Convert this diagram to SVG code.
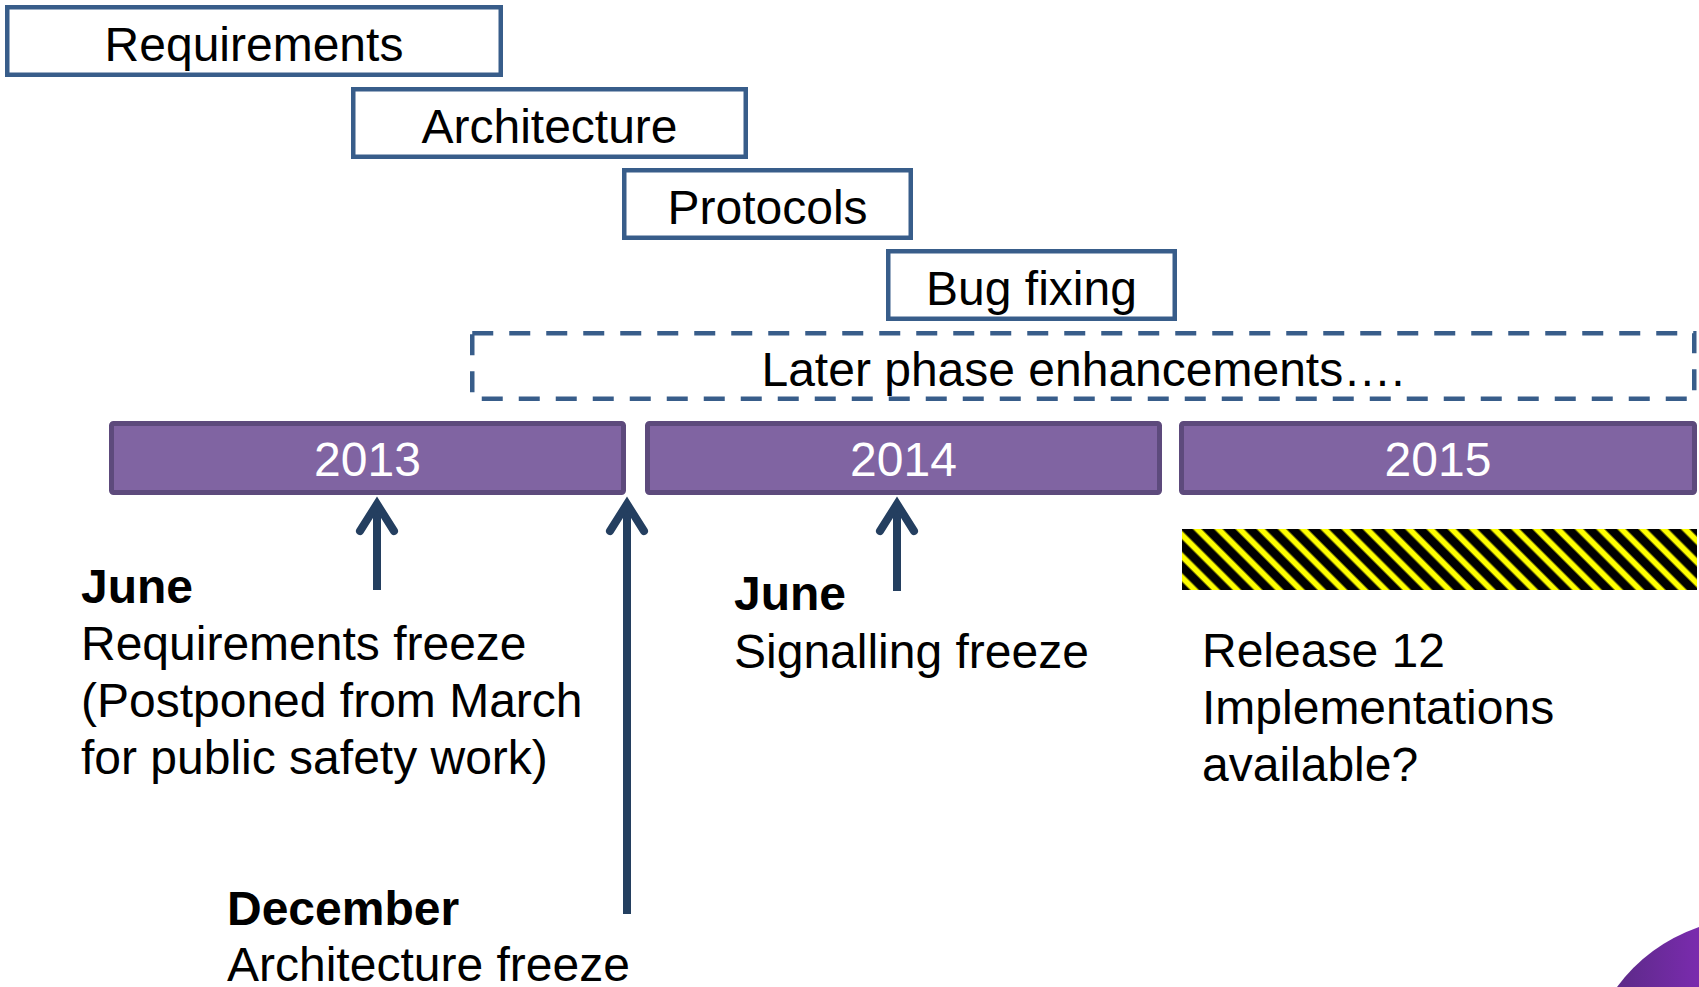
<svg xmlns="http://www.w3.org/2000/svg" width="1699" height="987" viewBox="0 0 1699 987">
<style>
.box{fill:#fff;stroke:#385D8A;stroke-width:4.5}
.dash{fill:none;stroke:#385D8A;stroke-width:4.5;stroke-dasharray:21 16}
.year{fill:#8064A2;stroke:#5D4A7C;stroke-width:5}
.t{font-family:"Liberation Sans",Arial,sans-serif;font-size:48px;fill:#000}
.c{text-anchor:middle}
.w{fill:#fff}
.b{font-weight:bold}
.arr{fill:none;stroke:#243F60;stroke-width:8;stroke-linecap:butt}
.head{fill:none;stroke:#243F60;stroke-width:8;stroke-linecap:round;stroke-linejoin:miter}
</style>
<defs>
<pattern id="hatch" width="15" height="15" patternUnits="userSpaceOnUse" patternTransform="rotate(-45)">
<rect width="15" height="15" fill="#000"/>
<rect x="4" width="7" height="15" fill="#7a7a00"/>
<rect x="5" width="5" height="15" fill="#FFFF00"/>
</pattern>
<linearGradient id="pg" x1="0" y1="0" x2="1" y2="0">
<stop offset="0" stop-color="#5C2A88"/>
<stop offset="1" stop-color="#7A2BAE"/>
</linearGradient>
</defs>
<rect width="1699" height="987" fill="#fff"/>

<g id="requirements"><rect class="box" x="7.25" y="7.25" width="493.5" height="67.5"/><text class="t c" x="254" y="61">Requirements</text></g>
<g id="architecture"><rect class="box" x="353.25" y="89.25" width="392.5" height="67.5"/><text class="t c" x="549.5" y="143">Architecture</text></g>
<g id="protocols"><rect class="box" x="624.25" y="170.25" width="286.5" height="67.5"/><text class="t c" x="767.5" y="224">Protocols</text></g>
<g id="bugfixing"><rect class="box" x="888.25" y="251.25" width="286.5" height="67.5"/><text class="t c" x="1031.5" y="305">Bug fixing</text></g>
<g id="later"><rect class="dash" x="472.25" y="333.25" width="1222" height="65.5"/><text class="t c" x="1083" y="386">Later phase enhancements….</text></g>

<g id="y2013"><rect class="year" x="111.5" y="423.5" width="512" height="69" rx="2"/><text class="t c w" x="367.5" y="476">2013</text></g>
<g id="y2014"><rect class="year" x="647.5" y="423.5" width="512" height="69" rx="2"/><text class="t c w" x="903.5" y="476">2014</text></g>
<g id="y2015"><rect class="year" x="1181.5" y="423.5" width="513" height="69" rx="2"/><text class="t c w" x="1438" y="476">2015</text></g>

<g id="connectors">
<line class="arr" x1="377" y1="505" x2="377" y2="590"/>
<polyline class="head" points="360,531 377,504 394,531"/>
<line class="arr" x1="627" y1="505" x2="627" y2="914"/>
<polyline class="head" points="610,531 627,504 644,531"/>
<line class="arr" x1="897" y1="505" x2="897" y2="591"/>
<polyline class="head" points="880,531 897,504 914,531"/>
</g>

<g id="hatchbar"><rect x="1182" y="529" width="515" height="61" fill="url(#hatch)"/></g>

<g id="june2013">
<text class="t b" x="81" y="603">June</text>
<text class="t" x="81" y="660">Requirements freeze</text>
<text class="t" x="81" y="717">(Postponed from March</text>
<text class="t" x="81" y="774">for public safety work)</text>
</g>
<g id="june2014">
<text class="t b" x="734" y="610">June</text>
<text class="t" x="734" y="668">Signalling freeze</text>
</g>
<g id="release12">
<text class="t" x="1202" y="667">Release 12</text>
<text class="t" x="1202" y="724">Implementations</text>
<text class="t" x="1202" y="781">available?</text>
</g>
<g id="december">
<text class="t b" x="227" y="925">December</text>
<text class="t" x="227" y="981">Architecture freeze</text>
</g>

<path d="M1617,987 Q1648,945 1699,927 L1699,987 Z" fill="url(#pg)"/>
</svg>
